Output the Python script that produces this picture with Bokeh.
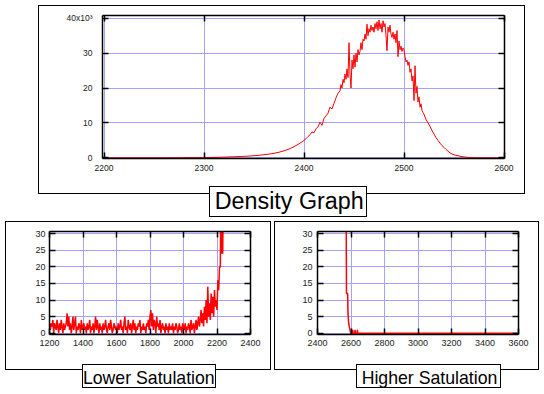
from bokeh.plotting import figure
from bokeh.models import Range1d, FixedTicker, LinearAxis, Grid, Label
from bokeh.layouts import column, row
from bokeh.embed import file_html
from bokeh.resources import INLINE

# ---------------- data ----------------
# Density graph: segments of (start, step, counts)
density_segments = [
    (2200, 60, [0, 0]),
    (2300, 5, [60, 90, 120, 160, 200, 250, 300, 360, 420, 500, 600, 720, 880, 1050,
               1300, 1600, 2000, 2500, 3200, 4000]),
    (2400, 2, [5000, 5500, 6100, 6600, 7400, 7200, 8300, 8900, 10200, 9300, 11300,
               12000, 12800, 14500, 14000, 15600, 17200, 18500, 19200]),
    (2437, 1, [21000, 20000, 22500, 21500, 24000, 22500, 25500, 23000, 33000, 24000,
               20000, 28000, 25500, 29500, 26000, 30000, 27500, 31000, 29500, 30500,
               33000, 31000, 34000, 33500, 35500, 34000, 38300, 35000, 37000, 36000,
               38000, 36500, 37500, 36000, 38500, 37000, 39000, 36500, 39500, 37000,
               38500, 36000, 39300, 37500, 38500, 35000, 30700, 37500, 36000, 38000,
               35500, 34500, 36000, 34000, 35500, 33000, 36500, 29000, 33500, 31000,
               32000, 30500, 31500, 31000, 29000, 27500, 28000, 26500, 27500, 24500,
               25500, 22000, 23500, 16400, 26400, 18500, 20500, 16000, 17500, 14500,
               15500, 13500, 13000]),
    (2520, 2, [12500, 11000, 10000, 9000, 7800, 6800, 5800, 5000, 4200, 3500, 3000,
               2400, 1900, 1400, 1100, 900, 700, 600, 450, 350, 250, 200, 120, 80, 40, 0]),
    (2600, 1, [0]),
]

# Lower saturation: counts every 5 units from 1200 to 2200, then the steep tail
lower_start = 1200
lower_step = 5
lower_counts = [
    3, 1, 3, 2, 4, 0, 3, 2, 1, 4, 2, 0, 3, 1, 4, 2, 0, 3, 1, 2, 3,
    6, 2, 5, 1, 3, 0, 2, 5, 1, 3, 5, 0, 2, 1, 3, 2, 0, 4, 1, 2,
    3, 1, 2, 0, 3, 1, 2, 4, 0, 2, 1, 3, 0, 2, 5, 1, 4, 2, 0, 3,
    1, 2, 0, 3, 1, 2, 4, 1, 0, 2, 3, 1, 4, 2, 0, 1, 3, 2, 1, 2,
    0, 3, 1, 2, 4, 1, 2, 0, 3, 5, 1, 2, 0, 4, 2, 1, 3, 0, 2, 4,
    1, 3, 0, 2, 1, 3, 2, 4, 0, 2, 1, 3, 1, 2, 0, 3, 2, 4, 1, 5,
    7, 2, 6, 1, 4, 3, 0, 5, 2, 3, 1, 4, 0, 2, 3, 1, 2, 0, 3, 1,
    2, 0, 3, 1, 2, 1, 3, 0, 2, 1, 3, 2, 0, 1, 3, 1, 2, 0, 3, 2,
    1, 3, 0, 2, 1, 3, 2, 0, 4, 1, 2, 3, 0, 2, 4, 1, 3, 5, 2, 4,
    7, 3, 6, 2, 8, 4, 10, 3, 14, 5, 9, 4, 12, 6, 11, 5, 13, 8, 10, 7,
]
lower_tail_x = [2205, 2210, 2215, 2220, 2222, 2228, 2230, 2234, 2238, 2245]
lower_tail_y = [16, 13, 20, 20, 36, 24, 36, 24, 45, 60]

# Higher saturation
higher_x = [2570, 2571, 2573, 2580, 2582, 2586, 2590, 2594, 2598, 2608, 2610, 2612,
            2622, 2624, 2626, 2636, 2638, 2640, 3600]
higher_y = [45, 40, 12, 12, 6, 3, 2, 1, 0, 0, 1, 0, 0, 1, 0, 0, 1, 0, 0]

# ticks
density_xticks = [2200, 2300, 2400, 2500, 2600]
density_yticks = [0, 10000, 20000, 30000, 40000]
density_ylabels = ["0", "10", "20", "30", "40x10³"]
lower_xticks = [1200, 1400, 1600, 1800, 2000, 2200, 2400]
higher_xticks = [2400, 2600, 2800, 3000, 3200, 3400, 3600]
sat_yticks = [0, 5, 10, 15, 20, 25, 30]

titles = ["Density Graph", "Lower Satulation", "Higher Satulation"]

# ---------------- build series ----------------
density_x, density_y = [], []
for start, step, vals in density_segments:
    for i, v in enumerate(vals):
        density_x.append(start + step * i)
        density_y.append(v)

lower_x = [lower_start + lower_step * i for i in range(len(lower_counts))] + lower_tail_x
lower_y = lower_counts + lower_tail_y

FONT = "Liberation Sans"
GRID = "#a3a3ff"
RED = "#ff0000"


def make_fig(width, height, borders, xr, yr, xticks, yticks, lab_size, xs, ys, overrides=None):
    l, r, t, b = borders
    p = figure(width=width, height=height, output_backend="svg", toolbar_location=None,
               x_range=Range1d(*xr), y_range=Range1d(*yr),
               min_border_left=l, min_border_right=r, min_border_top=t, min_border_bottom=b,
               x_axis_type=None, y_axis_type=None)
    p.outline_line_color = None
    p.background_fill_color = "white"
    p.border_fill_color = None
    xt = FixedTicker(ticks=xticks, minor_ticks=[])
    yt = FixedTicker(ticks=yticks, minor_ticks=[])
    p.add_layout(Grid(dimension=0, ticker=xt, grid_line_color=GRID, grid_line_width=1))
    p.add_layout(Grid(dimension=1, ticker=yt, grid_line_color=GRID, grid_line_width=1))
    for loc, tk in [("below", xt), ("left", yt), ("above", xt), ("right", yt)]:
        ax = LinearAxis(ticker=tk)
        ax.axis_line_color = "black"
        ax.axis_line_width = 1.5
        ax.major_tick_in = 6
        ax.major_tick_out = 0
        ax.major_tick_line_color = "black"
        ax.major_tick_line_width = 1.5
        ax.minor_tick_in = 0
        ax.minor_tick_out = 0
        ax.major_label_text_font = FONT
        if loc in ("above", "right"):
            # mirrored frame edge with ticks only
            ax.major_label_text_font_size = "1px"
            ax.major_label_text_color = None
            ax.major_label_standoff = 0
        else:
            ax.major_label_text_color = "#1a1a1a"
            ax.major_label_text_font_size = lab_size
            ax.major_label_standoff = xs if loc == "below" else ys
        if loc == "left" and overrides:
            ax.major_label_overrides = overrides
        p.add_layout(ax, loc)
    return p


def box_layers(l, t, r, b, fill=None):
    """CSS background layers drawing a 1px black rectangle (optionally filled)."""
    w, h = r - l + 1, b - t + 1
    layers = [((l, t), (w, 1), "#000"), ((l, b), (w, 1), "#000"),
              ((l, t), (1, h), "#000"), ((r, t), (1, h), "#000")]
    if fill:
        layers.append(((l, t), (w, h), fill))
    return layers


def panel_styles(outer, caption_box):
    layers = box_layers(*caption_box, fill="#fff") + box_layers(*outer)
    return {
        "background-image": ", ".join(f"linear-gradient({c}, {c})" for _, _, c in layers),
        "background-position": ", ".join(f"{x}px {y}px" for (x, y), _, _ in layers),
        "background-size": ", ".join(f"{w}px {h}px" for _, (w, h), _ in layers),
        "background-repeat": "no-repeat",
    }


def add_caption(p, text, tx, ty, size):
    p.add_layout(Label(x=tx, y=ty, x_units="canvas", y_units="canvas", text=text,
                       text_font=FONT, text_font_size=size, text_color="black",
                       text_align="center", text_baseline="middle"), "below")


# top: density graph (canvas starts at the page's top-left corner)
top = make_fig(544, 221, (102, 40, 15, 63), (2198.5, 2600.5), (-200, 40800),
               density_xticks, density_yticks, "8.5px", 6, 10,
               overrides=dict(zip(density_yticks, density_ylabels)))
top.line(density_x, density_y, line_color=RED, line_width=1)
top.styles = panel_styles((38, 5, 524, 193), (209, 186, 366, 216))
add_caption(top, titles[0], 288.7, 200.7, "23.3px")

# bottom left: lower saturation (canvas origin at page (0, 221))
bl = make_fig(272, 173, (49, 22, 10, 60), (1200, 2400), (-0.4, 30.7),
              lower_xticks, sat_yticks, "9px", 5, 4)
bl.line(lower_x, lower_y, line_color=RED, line_width=1.5)
bl.styles = panel_styles((5, 0, 270, 148), (82, 143, 215, 166))
add_caption(bl, titles[1], 148.3, 156, "17.7px")

# bottom right: higher saturation (canvas origin at page (272, 221))
br = make_fig(272, 173, (45, 26, 10, 60), (2400, 3600), (-0.4, 30.7),
              higher_xticks, sat_yticks, "9px", 5, 5)
br.line(higher_x, higher_y, line_color=RED, line_width=1.5)
br.styles = panel_styles((2, 0, 266, 148), (84, 143, 228, 166))
add_caption(br, titles[2], 157.0, 156, "17.7px")

layout = column(top, row(bl, br))
open("out.html", "w").write(file_html(layout, INLINE))
